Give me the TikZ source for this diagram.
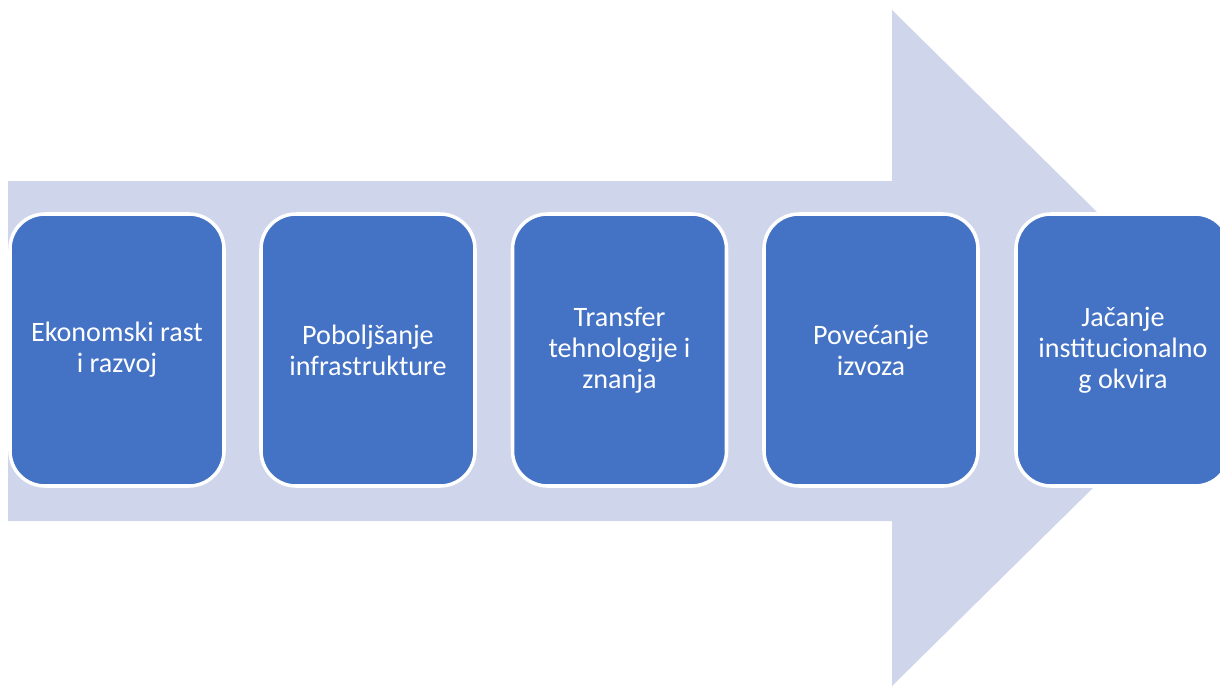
\documentclass[tikz,border=0pt]{standalone}
\usepackage{fontspec}
\setmainfont{Carlito}
\definecolor{arrow_lilac}{RGB}{207, 213, 234}
\definecolor{stage_blue}{RGB}{68, 114, 196}
\tikzstyle{stage}=[rectangle,rounded corners=0.35cm,fill=stage_blue,draw=white,
  line width=1pt,text=white,align=center,font=\fontsize{8}{8.8}\selectfont,
  inner sep=0pt,minimum width=2.14cm,minimum height=2.72cm]
\tikzstyle{none}=[]

\begin{document}
\begin{tikzpicture}
		\useasboundingbox (0, 0) rectangle (12.2, 6.86);
		\clip (0, 0) rectangle (12.2, 6.86);
		\fill [arrow_lilac] (0.08, 5.05) -- (8.92, 5.05) -- (8.92, 6.76) -- (12.35, 3.38)
			-- (8.92, 0) -- (8.92, 1.65) -- (0.08, 1.65) -- cycle;
		\node [style=stage] (0) at (1.17, 3.36) {Ekonomski rast\\i razvoj};
		\node [style=stage] (1) at (3.68, 3.36) {Poboljšanje\\infrastrukture};
		\node [style=stage] (2) at (6.195, 3.36) {Transfer\\tehnologije i\\znanja};
		\node [style=stage] (3) at (8.71, 3.36) {Povećanje\\izvoza};
		\node [style=stage] (4) at (11.23, 3.36) {Jačanje\\institucionalno\\g okvira};
\end{tikzpicture}
\end{document}
